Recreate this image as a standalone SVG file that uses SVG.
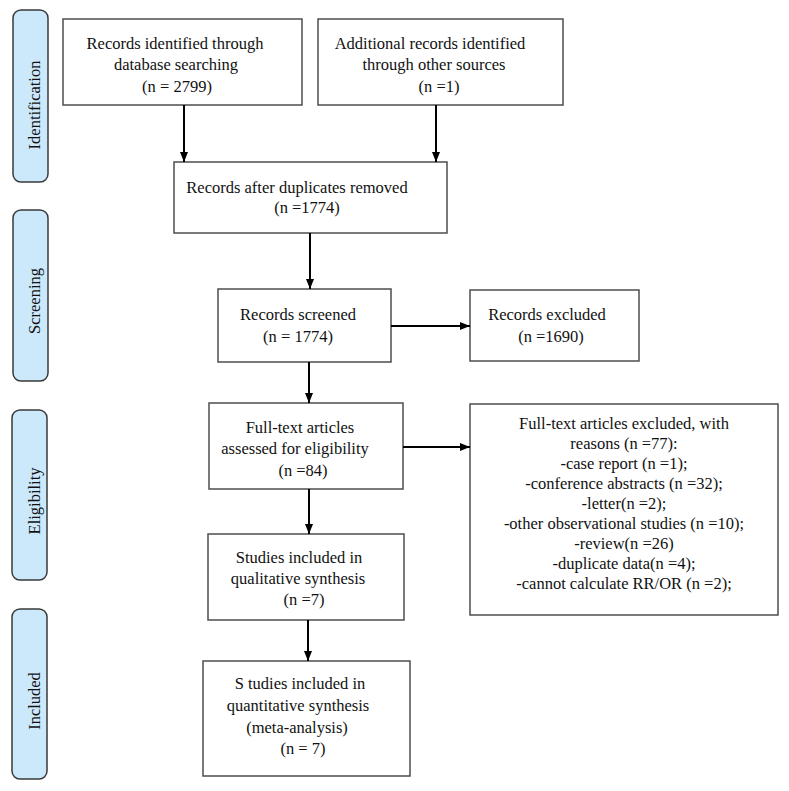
<svg xmlns="http://www.w3.org/2000/svg" width="789" height="791" viewBox="0 0 789 791">
<defs>
<marker id="ah" markerUnits="userSpaceOnUse" markerWidth="10" markerHeight="10" viewBox="0 0 10 10" refX="10" refY="5" orient="auto">
<path d="M0,1 L10,5 L0,9 Z" fill="#000"/>
</marker>
<style>
.box{fill:#fff;stroke:#4d4d4d;stroke-width:1.5}
.pill{fill:#cce9fb;stroke:#3a3a3a;stroke-width:1.5}
text{font-family:'Liberation Serif','DejaVu Serif',serif;font-size:16.5px;fill:#111;text-anchor:middle}
.conn line{stroke:#000;stroke-width:2;marker-end:url(#ah)}
</style>
</defs>
<rect width="789" height="791" fill="#fff"/>

<g id="phase-identification">
<rect class="pill" x="13" y="10" width="35" height="172" rx="8"/>
<text font-family="Liberation Serif" transform="translate(40,105) rotate(-90)">Identification</text>
</g>
<g id="phase-screening">
<rect class="pill" x="13" y="210" width="35" height="171" rx="8"/>
<text font-family="Liberation Serif" transform="translate(40,301) rotate(-90)">Screening</text>
</g>
<g id="phase-eligibility">
<rect class="pill" x="12" y="410" width="35" height="170" rx="8"/>
<text font-family="Liberation Serif" transform="translate(40,501) rotate(-90)">Eligibility</text>
</g>
<g id="phase-included">
<rect class="pill" x="12" y="609" width="35" height="170" rx="8"/>
<text font-family="Liberation Serif" transform="translate(40,701) rotate(-90)">Included</text>
</g>

<g id="db-records" font-family="Liberation Serif">
<rect class="box" x="63" y="19" width="239" height="86"/>
<text x="175" y="49">Records identified through</text>
<text x="176" y="70">database searching</text>
<text x="177" y="92">(n = 2799)</text>
</g>
<g id="other-records">
<rect class="box" x="318" y="19" width="245" height="86"/>
<text x="430" y="49">Additional records identified</text>
<text x="434" y="70">through other sources</text>
<text x="439" y="92">(n =1)</text>
</g>
<g id="dedup">
<rect class="box" x="174" y="162" width="273" height="71"/>
<text x="297" y="193">Records after duplicates removed</text>
<text x="307" y="213">(n =1774)</text>
</g>
<g id="screened">
<rect class="box" x="218" y="289" width="173" height="73"/>
<text x="298" y="320">Records screened</text>
<text x="298" y="342">(n = 1774)</text>
</g>
<g id="excluded">
<rect class="box" x="470" y="290" width="169" height="71"/>
<text x="547" y="320">Records excluded</text>
<text x="551" y="342">(n =1690)</text>
</g>
<g id="fulltext">
<rect class="box" x="209" y="403" width="194" height="86"/>
<text x="300" y="433">Full-text articles</text>
<text x="295" y="454">assessed for eligibility</text>
<text x="303" y="476">(n =84)</text>
</g>
<g id="fulltext-excluded">
<rect class="box" x="470" y="404" width="308" height="211"/>
<text x="624" y="429">Full-text articles excluded, with</text>
<text x="624" y="449">reasons (n =77):</text>
<text x="624" y="469">-case report (n =1);</text>
<text x="624" y="489">-conference abstracts (n =32);</text>
<text x="624" y="509">-letter(n =2);</text>
<text x="624" y="529">-other observational studies (n =10);</text>
<text x="624" y="549">-review(n =26)</text>
<text x="624" y="569">-duplicate data(n =4);</text>
<text x="624" y="589">-cannot calculate RR/OR (n =2);</text>
</g>
<g id="qualitative">
<rect class="box" x="208" y="534" width="196" height="86"/>
<text x="299" y="563">Studies included in</text>
<text x="298" y="584">qualitative synthesis</text>
<text x="304" y="605">(n =7)</text>
</g>
<g id="quantitative">
<rect class="box" x="203" y="661" width="207" height="115"/>
<text x="300" y="689">S tudies included in</text>
<text x="298" y="711">quantitative synthesis</text>
<text x="297" y="733">(meta-analysis)</text>
<text x="303" y="754">(n = 7)</text>
</g>

<g id="connectors" class="conn">
<line x1="184" y1="105" x2="184" y2="162"/>
<line x1="436" y1="105" x2="436" y2="162"/>
<line x1="310" y1="233" x2="310" y2="289"/>
<line x1="391" y1="326" x2="470" y2="326"/>
<line x1="309" y1="362" x2="309" y2="403"/>
<line x1="403" y1="447" x2="470" y2="447"/>
<line x1="309" y1="489" x2="309" y2="534"/>
<line x1="308" y1="620" x2="308" y2="661"/>
</g>
</svg>
